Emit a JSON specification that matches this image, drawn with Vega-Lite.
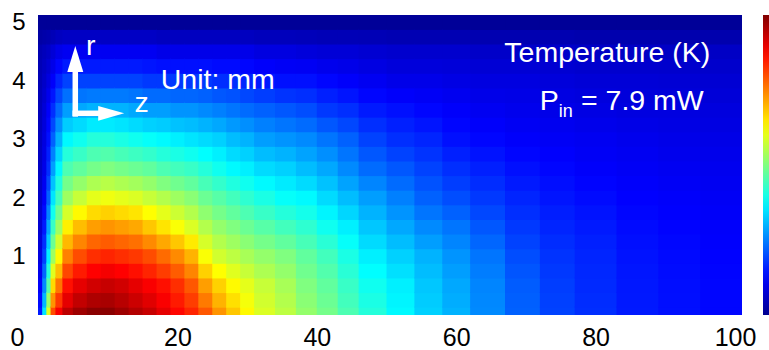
{
"$schema":"https://vega.github.io/schema/vega-lite/v6.json",
"width":704,"height":300,"autosize":"none",
"padding":{"left":38,"top":15,"right":27,"bottom":35},
"background":"white",
"config":{"view":{"stroke":null},"font":"Liberation Sans",
"axisX":{"ticks":false,"tickSize":0,"domain":false,"grid":false,"labelFontSize":25,"labelFont":"Liberation Sans","labelColor":"#000000","labelBaseline":"alphabetic","labelPadding":30,"labelFlush":false},
"axisY":{"ticks":false,"tickSize":0,"domain":false,"grid":false,"labelFontSize":24,"labelFont":"Liberation Sans","labelColor":"#000000","labelPadding":13}},
"datasets":{
"cols":[{"z":0.3,"z0":0,"z1":0.8},{"z":0.9,"z0":0.6,"z1":1.4},{"z":1.5,"z0":1.2,"z1":2.0},{"z":2.15,"z0":1.8,"z1":2.7},{"z":3,"z0":2.5,"z1":3.7},{"z":4.25,"z0":3.5,"z1":5.2},{"z":6,"z0":5,"z1":7.2},{"z":8,"z0":7,"z1":9.2},{"z":10,"z0":9,"z1":11.2},{"z":12,"z0":11,"z1":13.2},{"z":14,"z0":13,"z1":15.2},{"z":16,"z0":15,"z1":17.2},{"z":18,"z0":17,"z1":19.2},{"z":20,"z0":19,"z1":21.2},{"z":22,"z0":21,"z1":23.2},{"z":24,"z0":23,"z1":25.2},{"z":26,"z0":25,"z1":27.2},{"z":28,"z0":27,"z1":29.2},{"z":30,"z0":29,"z1":31.2},{"z":32.5,"z0":31,"z1":34.2},{"z":35.5,"z0":34,"z1":37.2},{"z":38.5,"z0":37,"z1":40.2},{"z":41.5,"z0":40,"z1":43.2},{"z":44.5,"z0":43,"z1":46.2},{"z":48,"z0":46,"z1":50.2},{"z":52,"z0":50,"z1":54.2},{"z":56,"z0":54,"z1":58.2},{"z":60,"z0":58,"z1":62.2},{"z":64.5,"z0":62,"z1":67.2},{"z":69.5,"z0":67,"z1":72.2},{"z":74.5,"z0":72,"z1":77.2},{"z":80,"z0":77,"z1":83.2},{"z":86,"z0":83,"z1":89.2},{"z":92,"z0":89,"z1":95.2},{"z":98,"z0":95,"z1":101}],
"rows":[{"r":0,"r0":-0.125,"r1":0.145},{"r":0.25,"r0":0.125,"r1":0.395},{"r":0.5,"r0":0.375,"r1":0.645},{"r":0.75,"r0":0.625,"r1":0.895},{"r":1,"r0":0.875,"r1":1.145},{"r":1.25,"r0":1.125,"r1":1.395},{"r":1.5,"r0":1.375,"r1":1.645},{"r":1.75,"r0":1.625,"r1":1.895},{"r":2,"r0":1.875,"r1":2.145},{"r":2.25,"r0":2.125,"r1":2.395},{"r":2.5,"r0":2.375,"r1":2.645},{"r":2.75,"r0":2.625,"r1":2.895},{"r":3,"r0":2.875,"r1":3.145},{"r":3.25,"r0":3.125,"r1":3.395},{"r":3.5,"r0":3.375,"r1":3.645},{"r":3.75,"r0":3.625,"r1":3.895},{"r":4,"r0":3.875,"r1":4.145},{"r":4.25,"r0":4.125,"r1":4.395},{"r":4.5,"r0":4.375,"r1":4.645},{"r":4.75,"r0":4.625,"r1":4.895},{"r":5,"r0":4.875,"r1":5.2}],
"cells":[
{"z":0.3,"r":0,"t":0.15},{"z":0.3,"r":0.25,"t":0.135},{"z":0.3,"r":0.5,"t":0.12},{"z":0.3,"r":0.75,"t":0.105},{"z":0.3,"r":1,"t":0.09},{"z":0.3,"r":1.25,"t":0.083},{"z":0.3,"r":1.5,"t":0.075},{"z":0.3,"r":1.75,"t":0.07},{"z":0.3,"r":2,"t":0.065},{"z":0.3,"r":2.25,"t":0.063},{"z":0.3,"r":2.5,"t":0.06},{"z":0.3,"r":2.75,"t":0.058},{"z":0.3,"r":3,"t":0.055},{"z":0.3,"r":3.25,"t":0.053},{"z":0.3,"r":3.5,"t":0.05},{"z":0.3,"r":3.75,"t":0.048},{"z":0.3,"r":4,"t":0.045},{"z":0.3,"r":4.25,"t":0.043},{"z":0.3,"r":4.5,"t":0.04},{"z":0.3,"r":4.75,"t":0.025},{"z":0.3,"r":5,"t":0.01},
{"z":0.9,"r":0,"t":0.35},{"z":0.9,"r":0.25,"t":0.305},{"z":0.9,"r":0.5,"t":0.26},{"z":0.9,"r":0.75,"t":0.225},{"z":0.9,"r":1,"t":0.19},{"z":0.9,"r":1.25,"t":0.17},{"z":0.9,"r":1.5,"t":0.15},{"z":0.9,"r":1.75,"t":0.135},{"z":0.9,"r":2,"t":0.12},{"z":0.9,"r":2.25,"t":0.11},{"z":0.9,"r":2.5,"t":0.1},{"z":0.9,"r":2.75,"t":0.095},{"z":0.9,"r":3,"t":0.09},{"z":0.9,"r":3.25,"t":0.085},{"z":0.9,"r":3.5,"t":0.08},{"z":0.9,"r":3.75,"t":0.073},{"z":0.9,"r":4,"t":0.065},{"z":0.9,"r":4.25,"t":0.058},{"z":0.9,"r":4.5,"t":0.05},{"z":0.9,"r":4.75,"t":0.03},{"z":0.9,"r":5,"t":0.01},
{"z":1.5,"r":0,"t":0.6},{"z":1.5,"r":0.25,"t":0.53},{"z":1.5,"r":0.5,"t":0.46},{"z":1.5,"r":0.75,"t":0.41},{"z":1.5,"r":1,"t":0.36},{"z":1.5,"r":1.25,"t":0.325},{"z":1.5,"r":1.5,"t":0.29},{"z":1.5,"r":1.75,"t":0.255},{"z":1.5,"r":2,"t":0.22},{"z":1.5,"r":2.25,"t":0.195},{"z":1.5,"r":2.5,"t":0.17},{"z":1.5,"r":2.75,"t":0.155},{"z":1.5,"r":3,"t":0.14},{"z":1.5,"r":3.25,"t":0.13},{"z":1.5,"r":3.5,"t":0.12},{"z":1.5,"r":3.75,"t":0.105},{"z":1.5,"r":4,"t":0.09},{"z":1.5,"r":4.25,"t":0.075},{"z":1.5,"r":4.5,"t":0.06},{"z":1.5,"r":4.75,"t":0.035},{"z":1.5,"r":5,"t":0.01},
{"z":2.15,"r":0,"t":0.8},{"z":2.15,"r":0.25,"t":0.73},{"z":2.15,"r":0.5,"t":0.66},{"z":2.15,"r":0.75,"t":0.595},{"z":2.15,"r":1,"t":0.53},{"z":2.15,"r":1.25,"t":0.48},{"z":2.15,"r":1.5,"t":0.43},{"z":2.15,"r":1.75,"t":0.39},{"z":2.15,"r":2,"t":0.35},{"z":2.15,"r":2.25,"t":0.315},{"z":2.15,"r":2.5,"t":0.28},{"z":2.15,"r":2.75,"t":0.25},{"z":2.15,"r":3,"t":0.22},{"z":2.15,"r":3.25,"t":0.195},{"z":2.15,"r":3.5,"t":0.17},{"z":2.15,"r":3.75,"t":0.145},{"z":2.15,"r":4,"t":0.12},{"z":2.15,"r":4.25,"t":0.1},{"z":2.15,"r":4.5,"t":0.08},{"z":2.15,"r":4.75,"t":0.045},{"z":2.15,"r":5,"t":0.01},
{"z":3,"r":0,"t":0.88},{"z":3,"r":0.25,"t":0.82},{"z":3,"r":0.5,"t":0.76},{"z":3,"r":0.75,"t":0.69},{"z":3,"r":1,"t":0.63},{"z":3,"r":1.25,"t":0.58},{"z":3,"r":1.5,"t":0.53},{"z":3,"r":1.75,"t":0.485},{"z":3,"r":2,"t":0.44},{"z":3,"r":2.25,"t":0.405},{"z":3,"r":2.5,"t":0.37},{"z":3,"r":2.75,"t":0.335},{"z":3,"r":3,"t":0.3},{"z":3,"r":3.25,"t":0.265},{"z":3,"r":3.5,"t":0.23},{"z":3,"r":3.75,"t":0.195},{"z":3,"r":4,"t":0.16},{"z":3,"r":4.25,"t":0.13},{"z":3,"r":4.5,"t":0.1},{"z":3,"r":4.75,"t":0.055},{"z":3,"r":5,"t":0.01},
{"z":4.25,"r":0,"t":0.94},{"z":4.25,"r":0.25,"t":0.9},{"z":4.25,"r":0.5,"t":0.86},{"z":4.25,"r":0.75,"t":0.805},{"z":4.25,"r":1,"t":0.75},{"z":4.25,"r":1.25,"t":0.695},{"z":4.25,"r":1.5,"t":0.64},{"z":4.25,"r":1.75,"t":0.585},{"z":4.25,"r":2,"t":0.53},{"z":4.25,"r":2.25,"t":0.49},{"z":4.25,"r":2.5,"t":0.45},{"z":4.25,"r":2.75,"t":0.41},{"z":4.25,"r":3,"t":0.37},{"z":4.25,"r":3.25,"t":0.325},{"z":4.25,"r":3.5,"t":0.28},{"z":4.25,"r":3.75,"t":0.235},{"z":4.25,"r":4,"t":0.19},{"z":4.25,"r":4.25,"t":0.15},{"z":4.25,"r":4.5,"t":0.11},{"z":4.25,"r":4.75,"t":0.06},{"z":4.25,"r":5,"t":0.01},
{"z":6,"r":0,"t":0.97},{"z":6,"r":0.25,"t":0.935},{"z":6,"r":0.5,"t":0.9},{"z":6,"r":0.75,"t":0.85},{"z":6,"r":1,"t":0.8},{"z":6,"r":1.25,"t":0.745},{"z":6,"r":1.5,"t":0.69},{"z":6,"r":1.75,"t":0.63},{"z":6,"r":2,"t":0.57},{"z":6,"r":2.25,"t":0.52},{"z":6,"r":2.5,"t":0.47},{"z":6,"r":2.75,"t":0.43},{"z":6,"r":3,"t":0.39},{"z":6,"r":3.25,"t":0.34},{"z":6,"r":3.5,"t":0.29},{"z":6,"r":3.75,"t":0.24},{"z":6,"r":4,"t":0.19},{"z":6,"r":4.25,"t":0.15},{"z":6,"r":4.5,"t":0.11},{"z":6,"r":4.75,"t":0.06},{"z":6,"r":5,"t":0.01},
{"z":8,"r":0,"t":0.99},{"z":8,"r":0.25,"t":0.955},{"z":8,"r":0.5,"t":0.92},{"z":8,"r":0.75,"t":0.875},{"z":8,"r":1,"t":0.83},{"z":8,"r":1.25,"t":0.775},{"z":8,"r":1.5,"t":0.72},{"z":8,"r":1.75,"t":0.66},{"z":8,"r":2,"t":0.6},{"z":8,"r":2.25,"t":0.545},{"z":8,"r":2.5,"t":0.49},{"z":8,"r":2.75,"t":0.45},{"z":8,"r":3,"t":0.41},{"z":8,"r":3.25,"t":0.355},{"z":8,"r":3.5,"t":0.3},{"z":8,"r":3.75,"t":0.245},{"z":8,"r":4,"t":0.19},{"z":8,"r":4.25,"t":0.15},{"z":8,"r":4.5,"t":0.11},{"z":8,"r":4.75,"t":0.06},{"z":8,"r":5,"t":0.01},
{"z":10,"r":0,"t":0.99},{"z":10,"r":0.25,"t":0.96},{"z":10,"r":0.5,"t":0.93},{"z":10,"r":0.75,"t":0.885},{"z":10,"r":1,"t":0.84},{"z":10,"r":1.25,"t":0.785},{"z":10,"r":1.5,"t":0.73},{"z":10,"r":1.75,"t":0.67},{"z":10,"r":2,"t":0.61},{"z":10,"r":2.25,"t":0.555},{"z":10,"r":2.5,"t":0.5},{"z":10,"r":2.75,"t":0.455},{"z":10,"r":3,"t":0.41},{"z":10,"r":3.25,"t":0.355},{"z":10,"r":3.5,"t":0.3},{"z":10,"r":3.75,"t":0.245},{"z":10,"r":4,"t":0.19},{"z":10,"r":4.25,"t":0.15},{"z":10,"r":4.5,"t":0.11},{"z":10,"r":4.75,"t":0.06},{"z":10,"r":5,"t":0.01},
{"z":12,"r":0,"t":0.97},{"z":12,"r":0.25,"t":0.945},{"z":12,"r":0.5,"t":0.92},{"z":12,"r":0.75,"t":0.875},{"z":12,"r":1,"t":0.83},{"z":12,"r":1.25,"t":0.775},{"z":12,"r":1.5,"t":0.72},{"z":12,"r":1.75,"t":0.66},{"z":12,"r":2,"t":0.6},{"z":12,"r":2.25,"t":0.545},{"z":12,"r":2.5,"t":0.49},{"z":12,"r":2.75,"t":0.445},{"z":12,"r":3,"t":0.4},{"z":12,"r":3.25,"t":0.35},{"z":12,"r":3.5,"t":0.3},{"z":12,"r":3.75,"t":0.245},{"z":12,"r":4,"t":0.19},{"z":12,"r":4.25,"t":0.15},{"z":12,"r":4.5,"t":0.11},{"z":12,"r":4.75,"t":0.06},{"z":12,"r":5,"t":0.01},
{"z":14,"r":0,"t":0.95},{"z":14,"r":0.25,"t":0.925},{"z":14,"r":0.5,"t":0.9},{"z":14,"r":0.75,"t":0.86},{"z":14,"r":1,"t":0.82},{"z":14,"r":1.25,"t":0.765},{"z":14,"r":1.5,"t":0.71},{"z":14,"r":1.75,"t":0.65},{"z":14,"r":2,"t":0.59},{"z":14,"r":2.25,"t":0.535},{"z":14,"r":2.5,"t":0.48},{"z":14,"r":2.75,"t":0.435},{"z":14,"r":3,"t":0.39},{"z":14,"r":3.25,"t":0.34},{"z":14,"r":3.5,"t":0.29},{"z":14,"r":3.75,"t":0.24},{"z":14,"r":4,"t":0.19},{"z":14,"r":4.25,"t":0.15},{"z":14,"r":4.5,"t":0.11},{"z":14,"r":4.75,"t":0.06},{"z":14,"r":5,"t":0.01},
{"z":16,"r":0,"t":0.93},{"z":16,"r":0.25,"t":0.905},{"z":16,"r":0.5,"t":0.88},{"z":16,"r":0.75,"t":0.84},{"z":16,"r":1,"t":0.8},{"z":16,"r":1.25,"t":0.74},{"z":16,"r":1.5,"t":0.68},{"z":16,"r":1.75,"t":0.625},{"z":16,"r":2,"t":0.57},{"z":16,"r":2.25,"t":0.52},{"z":16,"r":2.5,"t":0.47},{"z":16,"r":2.75,"t":0.425},{"z":16,"r":3,"t":0.38},{"z":16,"r":3.25,"t":0.33},{"z":16,"r":3.5,"t":0.28},{"z":16,"r":3.75,"t":0.23},{"z":16,"r":4,"t":0.18},{"z":16,"r":4.25,"t":0.145},{"z":16,"r":4.5,"t":0.11},{"z":16,"r":4.75,"t":0.06},{"z":16,"r":5,"t":0.01},
{"z":18,"r":0,"t":0.9},{"z":18,"r":0.25,"t":0.88},{"z":18,"r":0.5,"t":0.86},{"z":18,"r":0.75,"t":0.815},{"z":18,"r":1,"t":0.77},{"z":18,"r":1.25,"t":0.71},{"z":18,"r":1.5,"t":0.65},{"z":18,"r":1.75,"t":0.6},{"z":18,"r":2,"t":0.55},{"z":18,"r":2.25,"t":0.5},{"z":18,"r":2.5,"t":0.45},{"z":18,"r":2.75,"t":0.41},{"z":18,"r":3,"t":0.37},{"z":18,"r":3.25,"t":0.325},{"z":18,"r":3.5,"t":0.28},{"z":18,"r":3.75,"t":0.23},{"z":18,"r":4,"t":0.18},{"z":18,"r":4.25,"t":0.14},{"z":18,"r":4.5,"t":0.1},{"z":18,"r":4.75,"t":0.055},{"z":18,"r":5,"t":0.01},
{"z":20,"r":0,"t":0.87},{"z":20,"r":0.25,"t":0.85},{"z":20,"r":0.5,"t":0.83},{"z":20,"r":0.75,"t":0.785},{"z":20,"r":1,"t":0.74},{"z":20,"r":1.25,"t":0.68},{"z":20,"r":1.5,"t":0.62},{"z":20,"r":1.75,"t":0.575},{"z":20,"r":2,"t":0.53},{"z":20,"r":2.25,"t":0.485},{"z":20,"r":2.5,"t":0.44},{"z":20,"r":2.75,"t":0.4},{"z":20,"r":3,"t":0.36},{"z":20,"r":3.25,"t":0.315},{"z":20,"r":3.5,"t":0.27},{"z":20,"r":3.75,"t":0.225},{"z":20,"r":4,"t":0.18},{"z":20,"r":4.25,"t":0.14},{"z":20,"r":4.5,"t":0.1},{"z":20,"r":4.75,"t":0.055},{"z":20,"r":5,"t":0.01},
{"z":22,"r":0,"t":0.84},{"z":22,"r":0.25,"t":0.815},{"z":22,"r":0.5,"t":0.79},{"z":22,"r":0.75,"t":0.745},{"z":22,"r":1,"t":0.7},{"z":22,"r":1.25,"t":0.645},{"z":22,"r":1.5,"t":0.59},{"z":22,"r":1.75,"t":0.55},{"z":22,"r":2,"t":0.51},{"z":22,"r":2.25,"t":0.47},{"z":22,"r":2.5,"t":0.43},{"z":22,"r":2.75,"t":0.39},{"z":22,"r":3,"t":0.35},{"z":22,"r":3.25,"t":0.31},{"z":22,"r":3.5,"t":0.27},{"z":22,"r":3.75,"t":0.225},{"z":22,"r":4,"t":0.18},{"z":22,"r":4.25,"t":0.14},{"z":22,"r":4.5,"t":0.1},{"z":22,"r":4.75,"t":0.055},{"z":22,"r":5,"t":0.01},
{"z":24,"r":0,"t":0.79},{"z":24,"r":0.25,"t":0.755},{"z":24,"r":0.5,"t":0.72},{"z":24,"r":0.75,"t":0.67},{"z":24,"r":1,"t":0.62},{"z":24,"r":1.25,"t":0.585},{"z":24,"r":1.5,"t":0.55},{"z":24,"r":1.75,"t":0.515},{"z":24,"r":2,"t":0.48},{"z":24,"r":2.25,"t":0.445},{"z":24,"r":2.5,"t":0.41},{"z":24,"r":2.75,"t":0.375},{"z":24,"r":3,"t":0.34},{"z":24,"r":3.25,"t":0.3},{"z":24,"r":3.5,"t":0.26},{"z":24,"r":3.75,"t":0.22},{"z":24,"r":4,"t":0.18},{"z":24,"r":4.25,"t":0.14},{"z":24,"r":4.5,"t":0.1},{"z":24,"r":4.75,"t":0.055},{"z":24,"r":5,"t":0.01},
{"z":26,"r":0,"t":0.73},{"z":26,"r":0.25,"t":0.7},{"z":26,"r":0.5,"t":0.67},{"z":26,"r":0.75,"t":0.625},{"z":26,"r":1,"t":0.58},{"z":26,"r":1.25,"t":0.55},{"z":26,"r":1.5,"t":0.52},{"z":26,"r":1.75,"t":0.49},{"z":26,"r":2,"t":0.46},{"z":26,"r":2.25,"t":0.425},{"z":26,"r":2.5,"t":0.39},{"z":26,"r":2.75,"t":0.36},{"z":26,"r":3,"t":0.33},{"z":26,"r":3.25,"t":0.29},{"z":26,"r":3.5,"t":0.25},{"z":26,"r":3.75,"t":0.21},{"z":26,"r":4,"t":0.17},{"z":26,"r":4.25,"t":0.135},{"z":26,"r":4.5,"t":0.1},{"z":26,"r":4.75,"t":0.055},{"z":26,"r":5,"t":0.01},
{"z":28,"r":0,"t":0.68},{"z":28,"r":0.25,"t":0.655},{"z":28,"r":0.5,"t":0.63},{"z":28,"r":0.75,"t":0.595},{"z":28,"r":1,"t":0.56},{"z":28,"r":1.25,"t":0.53},{"z":28,"r":1.5,"t":0.5},{"z":28,"r":1.75,"t":0.47},{"z":28,"r":2,"t":0.44},{"z":28,"r":2.25,"t":0.405},{"z":28,"r":2.5,"t":0.37},{"z":28,"r":2.75,"t":0.34},{"z":28,"r":3,"t":0.31},{"z":28,"r":3.25,"t":0.275},{"z":28,"r":3.5,"t":0.24},{"z":28,"r":3.75,"t":0.205},{"z":28,"r":4,"t":0.17},{"z":28,"r":4.25,"t":0.135},{"z":28,"r":4.5,"t":0.1},{"z":28,"r":4.75,"t":0.055},{"z":28,"r":5,"t":0.01},
{"z":30,"r":0,"t":0.63},{"z":30,"r":0.25,"t":0.615},{"z":30,"r":0.5,"t":0.6},{"z":30,"r":0.75,"t":0.57},{"z":30,"r":1,"t":0.54},{"z":30,"r":1.25,"t":0.51},{"z":30,"r":1.5,"t":0.48},{"z":30,"r":1.75,"t":0.45},{"z":30,"r":2,"t":0.42},{"z":30,"r":2.25,"t":0.39},{"z":30,"r":2.5,"t":0.36},{"z":30,"r":2.75,"t":0.33},{"z":30,"r":3,"t":0.3},{"z":30,"r":3.25,"t":0.265},{"z":30,"r":3.5,"t":0.23},{"z":30,"r":3.75,"t":0.195},{"z":30,"r":4,"t":0.16},{"z":30,"r":4.25,"t":0.13},{"z":30,"r":4.5,"t":0.1},{"z":30,"r":4.75,"t":0.055},{"z":30,"r":5,"t":0.01},
{"z":32.5,"r":0,"t":0.59},{"z":32.5,"r":0.25,"t":0.58},{"z":32.5,"r":0.5,"t":0.57},{"z":32.5,"r":0.75,"t":0.545},{"z":32.5,"r":1,"t":0.52},{"z":32.5,"r":1.25,"t":0.49},{"z":32.5,"r":1.5,"t":0.46},{"z":32.5,"r":1.75,"t":0.43},{"z":32.5,"r":2,"t":0.4},{"z":32.5,"r":2.25,"t":0.37},{"z":32.5,"r":2.5,"t":0.34},{"z":32.5,"r":2.75,"t":0.31},{"z":32.5,"r":3,"t":0.28},{"z":32.5,"r":3.25,"t":0.25},{"z":32.5,"r":3.5,"t":0.22},{"z":32.5,"r":3.75,"t":0.185},{"z":32.5,"r":4,"t":0.15},{"z":32.5,"r":4.25,"t":0.12},{"z":32.5,"r":4.5,"t":0.09},{"z":32.5,"r":4.75,"t":0.05},{"z":32.5,"r":5,"t":0.01},
{"z":35.5,"r":0,"t":0.56},{"z":35.5,"r":0.25,"t":0.55},{"z":35.5,"r":0.5,"t":0.54},{"z":35.5,"r":0.75,"t":0.52},{"z":35.5,"r":1,"t":0.5},{"z":35.5,"r":1.25,"t":0.47},{"z":35.5,"r":1.5,"t":0.44},{"z":35.5,"r":1.75,"t":0.41},{"z":35.5,"r":2,"t":0.38},{"z":35.5,"r":2.25,"t":0.355},{"z":35.5,"r":2.5,"t":0.33},{"z":35.5,"r":2.75,"t":0.3},{"z":35.5,"r":3,"t":0.27},{"z":35.5,"r":3.25,"t":0.24},{"z":35.5,"r":3.5,"t":0.21},{"z":35.5,"r":3.75,"t":0.175},{"z":35.5,"r":4,"t":0.14},{"z":35.5,"r":4.25,"t":0.115},{"z":35.5,"r":4.5,"t":0.09},{"z":35.5,"r":4.75,"t":0.05},{"z":35.5,"r":5,"t":0.01},
{"z":38.5,"r":0,"t":0.52},{"z":38.5,"r":0.25,"t":0.51},{"z":38.5,"r":0.5,"t":0.5},{"z":38.5,"r":0.75,"t":0.485},{"z":38.5,"r":1,"t":0.47},{"z":38.5,"r":1.25,"t":0.445},{"z":38.5,"r":1.5,"t":0.42},{"z":38.5,"r":1.75,"t":0.395},{"z":38.5,"r":2,"t":0.37},{"z":38.5,"r":2.25,"t":0.34},{"z":38.5,"r":2.5,"t":0.31},{"z":38.5,"r":2.75,"t":0.285},{"z":38.5,"r":3,"t":0.26},{"z":38.5,"r":3.25,"t":0.23},{"z":38.5,"r":3.5,"t":0.2},{"z":38.5,"r":3.75,"t":0.17},{"z":38.5,"r":4,"t":0.14},{"z":38.5,"r":4.25,"t":0.113},{"z":38.5,"r":4.5,"t":0.085},{"z":38.5,"r":4.75,"t":0.048},{"z":38.5,"r":5,"t":0.01},
{"z":41.5,"r":0,"t":0.49},{"z":41.5,"r":0.25,"t":0.48},{"z":41.5,"r":0.5,"t":0.47},{"z":41.5,"r":0.75,"t":0.455},{"z":41.5,"r":1,"t":0.44},{"z":41.5,"r":1.25,"t":0.415},{"z":41.5,"r":1.5,"t":0.39},{"z":41.5,"r":1.75,"t":0.365},{"z":41.5,"r":2,"t":0.34},{"z":41.5,"r":2.25,"t":0.315},{"z":41.5,"r":2.5,"t":0.29},{"z":41.5,"r":2.75,"t":0.265},{"z":41.5,"r":3,"t":0.24},{"z":41.5,"r":3.25,"t":0.21},{"z":41.5,"r":3.5,"t":0.18},{"z":41.5,"r":3.75,"t":0.155},{"z":41.5,"r":4,"t":0.13},{"z":41.5,"r":4.25,"t":0.105},{"z":41.5,"r":4.5,"t":0.08},{"z":41.5,"r":4.75,"t":0.045},{"z":41.5,"r":5,"t":0.01},
{"z":44.5,"r":0,"t":0.45},{"z":44.5,"r":0.25,"t":0.44},{"z":44.5,"r":0.5,"t":0.43},{"z":44.5,"r":0.75,"t":0.415},{"z":44.5,"r":1,"t":0.4},{"z":44.5,"r":1.25,"t":0.38},{"z":44.5,"r":1.5,"t":0.36},{"z":44.5,"r":1.75,"t":0.335},{"z":44.5,"r":2,"t":0.31},{"z":44.5,"r":2.25,"t":0.285},{"z":44.5,"r":2.5,"t":0.26},{"z":44.5,"r":2.75,"t":0.24},{"z":44.5,"r":3,"t":0.22},{"z":44.5,"r":3.25,"t":0.195},{"z":44.5,"r":3.5,"t":0.17},{"z":44.5,"r":3.75,"t":0.145},{"z":44.5,"r":4,"t":0.12},{"z":44.5,"r":4.25,"t":0.1},{"z":44.5,"r":4.5,"t":0.08},{"z":44.5,"r":4.75,"t":0.045},{"z":44.5,"r":5,"t":0.01},
{"z":48,"r":0,"t":0.41},{"z":48,"r":0.25,"t":0.4},{"z":48,"r":0.5,"t":0.39},{"z":48,"r":0.75,"t":0.375},{"z":48,"r":1,"t":0.36},{"z":48,"r":1.25,"t":0.34},{"z":48,"r":1.5,"t":0.32},{"z":48,"r":1.75,"t":0.3},{"z":48,"r":2,"t":0.28},{"z":48,"r":2.25,"t":0.255},{"z":48,"r":2.5,"t":0.23},{"z":48,"r":2.75,"t":0.21},{"z":48,"r":3,"t":0.19},{"z":48,"r":3.25,"t":0.17},{"z":48,"r":3.5,"t":0.15},{"z":48,"r":3.75,"t":0.13},{"z":48,"r":4,"t":0.11},{"z":48,"r":4.25,"t":0.093},{"z":48,"r":4.5,"t":0.075},{"z":48,"r":4.75,"t":0.043},{"z":48,"r":5,"t":0.01},
{"z":52,"r":0,"t":0.37},{"z":52,"r":0.25,"t":0.365},{"z":52,"r":0.5,"t":0.36},{"z":52,"r":0.75,"t":0.345},{"z":52,"r":1,"t":0.33},{"z":52,"r":1.25,"t":0.31},{"z":52,"r":1.5,"t":0.29},{"z":52,"r":1.75,"t":0.27},{"z":52,"r":2,"t":0.25},{"z":52,"r":2.25,"t":0.23},{"z":52,"r":2.5,"t":0.21},{"z":52,"r":2.75,"t":0.19},{"z":52,"r":3,"t":0.17},{"z":52,"r":3.25,"t":0.155},{"z":52,"r":3.5,"t":0.14},{"z":52,"r":3.75,"t":0.12},{"z":52,"r":4,"t":0.1},{"z":52,"r":4.25,"t":0.085},{"z":52,"r":4.5,"t":0.07},{"z":52,"r":4.75,"t":0.04},{"z":52,"r":5,"t":0.01},
{"z":56,"r":0,"t":0.33},{"z":56,"r":0.25,"t":0.325},{"z":56,"r":0.5,"t":0.32},{"z":56,"r":0.75,"t":0.31},{"z":56,"r":1,"t":0.3},{"z":56,"r":1.25,"t":0.28},{"z":56,"r":1.5,"t":0.26},{"z":56,"r":1.75,"t":0.24},{"z":56,"r":2,"t":0.22},{"z":56,"r":2.25,"t":0.205},{"z":56,"r":2.5,"t":0.19},{"z":56,"r":2.75,"t":0.175},{"z":56,"r":3,"t":0.16},{"z":56,"r":3.25,"t":0.145},{"z":56,"r":3.5,"t":0.13},{"z":56,"r":3.75,"t":0.115},{"z":56,"r":4,"t":0.1},{"z":56,"r":4.25,"t":0.085},{"z":56,"r":4.5,"t":0.07},{"z":56,"r":4.75,"t":0.04},{"z":56,"r":5,"t":0.01},
{"z":60,"r":0,"t":0.3},{"z":60,"r":0.25,"t":0.295},{"z":60,"r":0.5,"t":0.29},{"z":60,"r":0.75,"t":0.28},{"z":60,"r":1,"t":0.27},{"z":60,"r":1.25,"t":0.255},{"z":60,"r":1.5,"t":0.24},{"z":60,"r":1.75,"t":0.22},{"z":60,"r":2,"t":0.2},{"z":60,"r":2.25,"t":0.185},{"z":60,"r":2.5,"t":0.17},{"z":60,"r":2.75,"t":0.155},{"z":60,"r":3,"t":0.14},{"z":60,"r":3.25,"t":0.13},{"z":60,"r":3.5,"t":0.12},{"z":60,"r":3.75,"t":0.108},{"z":60,"r":4,"t":0.095},{"z":60,"r":4.25,"t":0.083},{"z":60,"r":4.5,"t":0.07},{"z":60,"r":4.75,"t":0.04},{"z":60,"r":5,"t":0.01},
{"z":64.5,"r":0,"t":0.26},{"z":64.5,"r":0.25,"t":0.258},{"z":64.5,"r":0.5,"t":0.255},{"z":64.5,"r":0.75,"t":0.248},{"z":64.5,"r":1,"t":0.24},{"z":64.5,"r":1.25,"t":0.225},{"z":64.5,"r":1.5,"t":0.21},{"z":64.5,"r":1.75,"t":0.195},{"z":64.5,"r":2,"t":0.18},{"z":64.5,"r":2.25,"t":0.168},{"z":64.5,"r":2.5,"t":0.155},{"z":64.5,"r":2.75,"t":0.143},{"z":64.5,"r":3,"t":0.13},{"z":64.5,"r":3.25,"t":0.12},{"z":64.5,"r":3.5,"t":0.11},{"z":64.5,"r":3.75,"t":0.1},{"z":64.5,"r":4,"t":0.09},{"z":64.5,"r":4.25,"t":0.078},{"z":64.5,"r":4.5,"t":0.065},{"z":64.5,"r":4.75,"t":0.038},{"z":64.5,"r":5,"t":0.01},
{"z":69.5,"r":0,"t":0.22},{"z":69.5,"r":0.25,"t":0.218},{"z":69.5,"r":0.5,"t":0.215},{"z":69.5,"r":0.75,"t":0.208},{"z":69.5,"r":1,"t":0.2},{"z":69.5,"r":1.25,"t":0.19},{"z":69.5,"r":1.5,"t":0.18},{"z":69.5,"r":1.75,"t":0.17},{"z":69.5,"r":2,"t":0.16},{"z":69.5,"r":2.25,"t":0.15},{"z":69.5,"r":2.5,"t":0.14},{"z":69.5,"r":2.75,"t":0.13},{"z":69.5,"r":3,"t":0.12},{"z":69.5,"r":3.25,"t":0.113},{"z":69.5,"r":3.5,"t":0.105},{"z":69.5,"r":3.75,"t":0.098},{"z":69.5,"r":4,"t":0.09},{"z":69.5,"r":4.25,"t":0.078},{"z":69.5,"r":4.5,"t":0.065},{"z":69.5,"r":4.75,"t":0.038},{"z":69.5,"r":5,"t":0.01},
{"z":74.5,"r":0,"t":0.19},{"z":74.5,"r":0.25,"t":0.188},{"z":74.5,"r":0.5,"t":0.185},{"z":74.5,"r":0.75,"t":0.18},{"z":74.5,"r":1,"t":0.175},{"z":74.5,"r":1.25,"t":0.168},{"z":74.5,"r":1.5,"t":0.16},{"z":74.5,"r":1.75,"t":0.153},{"z":74.5,"r":2,"t":0.145},{"z":74.5,"r":2.25,"t":0.138},{"z":74.5,"r":2.5,"t":0.13},{"z":74.5,"r":2.75,"t":0.123},{"z":74.5,"r":3,"t":0.115},{"z":74.5,"r":3.25,"t":0.108},{"z":74.5,"r":3.5,"t":0.1},{"z":74.5,"r":3.75,"t":0.093},{"z":74.5,"r":4,"t":0.085},{"z":74.5,"r":4.25,"t":0.075},{"z":74.5,"r":4.5,"t":0.065},{"z":74.5,"r":4.75,"t":0.038},{"z":74.5,"r":5,"t":0.01},
{"z":80,"r":0,"t":0.17},{"z":80,"r":0.25,"t":0.168},{"z":80,"r":0.5,"t":0.165},{"z":80,"r":0.75,"t":0.163},{"z":80,"r":1,"t":0.16},{"z":80,"r":1.25,"t":0.155},{"z":80,"r":1.5,"t":0.15},{"z":80,"r":1.75,"t":0.143},{"z":80,"r":2,"t":0.135},{"z":80,"r":2.25,"t":0.128},{"z":80,"r":2.5,"t":0.12},{"z":80,"r":2.75,"t":0.115},{"z":80,"r":3,"t":0.11},{"z":80,"r":3.25,"t":0.103},{"z":80,"r":3.5,"t":0.095},{"z":80,"r":3.75,"t":0.088},{"z":80,"r":4,"t":0.08},{"z":80,"r":4.25,"t":0.07},{"z":80,"r":4.5,"t":0.06},{"z":80,"r":4.75,"t":0.035},{"z":80,"r":5,"t":0.01},
{"z":86,"r":0,"t":0.15},{"z":86,"r":0.25,"t":0.149},{"z":86,"r":0.5,"t":0.148},{"z":86,"r":0.75,"t":0.146},{"z":86,"r":1,"t":0.143},{"z":86,"r":1.25,"t":0.139},{"z":86,"r":1.5,"t":0.135},{"z":86,"r":1.75,"t":0.13},{"z":86,"r":2,"t":0.125},{"z":86,"r":2.25,"t":0.12},{"z":86,"r":2.5,"t":0.115},{"z":86,"r":2.75,"t":0.11},{"z":86,"r":3,"t":0.105},{"z":86,"r":3.25,"t":0.098},{"z":86,"r":3.5,"t":0.09},{"z":86,"r":3.75,"t":0.085},{"z":86,"r":4,"t":0.08},{"z":86,"r":4.25,"t":0.07},{"z":86,"r":4.5,"t":0.06},{"z":86,"r":4.75,"t":0.035},{"z":86,"r":5,"t":0.01},
{"z":92,"r":0,"t":0.14},{"z":92,"r":0.25,"t":0.139},{"z":92,"r":0.5,"t":0.138},{"z":92,"r":0.75,"t":0.136},{"z":92,"r":1,"t":0.134},{"z":92,"r":1.25,"t":0.131},{"z":92,"r":1.5,"t":0.127},{"z":92,"r":1.75,"t":0.124},{"z":92,"r":2,"t":0.12},{"z":92,"r":2.25,"t":0.115},{"z":92,"r":2.5,"t":0.11},{"z":92,"r":2.75,"t":0.105},{"z":92,"r":3,"t":0.1},{"z":92,"r":3.25,"t":0.095},{"z":92,"r":3.5,"t":0.09},{"z":92,"r":3.75,"t":0.084},{"z":92,"r":4,"t":0.078},{"z":92,"r":4.25,"t":0.069},{"z":92,"r":4.5,"t":0.06},{"z":92,"r":4.75,"t":0.035},{"z":92,"r":5,"t":0.01},
{"z":98,"r":0,"t":0.13},{"z":98,"r":0.25,"t":0.13},{"z":98,"r":0.5,"t":0.13},{"z":98,"r":0.75,"t":0.128},{"z":98,"r":1,"t":0.126},{"z":98,"r":1.25,"t":0.123},{"z":98,"r":1.5,"t":0.12},{"z":98,"r":1.75,"t":0.118},{"z":98,"r":2,"t":0.115},{"z":98,"r":2.25,"t":0.111},{"z":98,"r":2.5,"t":0.107},{"z":98,"r":2.75,"t":0.103},{"z":98,"r":3,"t":0.098},{"z":98,"r":3.25,"t":0.093},{"z":98,"r":3.5,"t":0.088},{"z":98,"r":3.75,"t":0.082},{"z":98,"r":4,"t":0.076},{"z":98,"r":4.25,"t":0.068},{"z":98,"r":4.5,"t":0.06},{"z":98,"r":4.75,"t":0.035},{"z":98,"r":5,"t":0.01}
],
"shafts":[{"z":5.35,"r":3.391,"z2":5.35,"r2":4.2},{"z":4.95,"r":3.449,"z2":8.9,"r2":3.449}],
"headUp":[{"z":5.35,"r":4.378}],
"headRight":[{"z":10.5,"r":3.449}],
"bigText":[{"z":66.9,"r":4.331,"txt":"Temperature (K)"},{"z":17.61,"r":3.865,"txt":"Unit: mm"},{"z":71.99,"r":3.505,"txt":"P"},{"z":77.9,"r":3.505,"txt":"= 7.9 mW"},{"z":6.9,"r":4.446,"txt":"r"},{"z":13.83,"r":3.476,"txt":"z"}],
"subText":[{"z":74.72,"r":3.394,"txt":"in"}]
},
"layer":[
{
"data":{"name":"cells"},
"transform":[
{"lookup":"z","from":{"data":{"name":"cols"},"key":"z","fields":["z0","z1"]}},
{"lookup":"r","from":{"data":{"name":"rows"},"key":"r","fields":["r0","r1"]}}
],
"mark":{"type":"rect","clip":true,"strokeWidth":0},
"encoding":{
"x":{"field":"z0","type":"quantitative","title":null,"scale":{"domain":[0,101],"nice":false,"zero":false},
"axis":{"values":[0,20,40,60,80,100],"labelOffset":{"condition":{"test":"datum.value === 0","value":-21},"value":0}}},
"x2":{"field":"z1"},
"y":{"field":"r0","type":"quantitative","title":null,"scale":{"domain":[0,5.13],"nice":false,"zero":false},
"axis":{"values":[1,2,3,4,5]}},
"y2":{"field":"r1"},
"fill":{"field":"t","type":"quantitative","scale":{"type":"linear","domain":[0,0.125,0.375,0.625,0.875,1],"range":["#00008f","#0000ff","#00ffff","#ffff00","#ff0000","#800000"],"interpolate":"rgb"},
"legend":{"type":"gradient","orient":"right","offset":21,"title":null,"labelExpr":"''","labelOpacity":0,"labelFontSize":1,"gradientLength":300,"gradientThickness":16,"padding":0,"gradientStrokeWidth":0,"direction":"vertical"}}
}
},
{
"data":{"name":"shafts"},
"mark":{"type":"rule","color":"#ffffff","strokeWidth":5.5,"strokeCap":"butt"},
"encoding":{
"x":{"field":"z","type":"quantitative","title":null,"scale":{"domain":[0,101],"nice":false,"zero":false},
"axis":{"values":[0,20,40,60,80,100],"labelOffset":{"condition":{"test":"datum.value === 0","value":-21},"value":0}}},
"x2":{"field":"z2"},
"y":{"field":"r","type":"quantitative","title":null,"scale":{"domain":[0,5.13],"nice":false,"zero":false},"axis":{"values":[1,2,3,4,5]}},
"y2":{"field":"r2"}
}
},
{
"data":{"name":"headUp"},
"mark":{"type":"point","shape":"M0,-1L0.615,1L-0.615,1Z","size":676,"filled":true,"color":"#ffffff","opacity":1,"strokeWidth":0},
"encoding":{
"x":{"field":"z","type":"quantitative","title":null,"scale":{"domain":[0,101],"nice":false,"zero":false},
"axis":{"values":[0,20,40,60,80,100],"labelOffset":{"condition":{"test":"datum.value === 0","value":-21},"value":0}}},
"y":{"field":"r","type":"quantitative","title":null,"scale":{"domain":[0,5.13],"nice":false,"zero":false},"axis":{"values":[1,2,3,4,5]}}
}
},
{
"data":{"name":"headRight"},
"mark":{"type":"point","shape":"M1,0L-1,-0.57L-1,0.57Z","size":676,"filled":true,"color":"#ffffff","opacity":1,"strokeWidth":0},
"encoding":{
"x":{"field":"z","type":"quantitative","title":null,"scale":{"domain":[0,101],"nice":false,"zero":false},
"axis":{"values":[0,20,40,60,80,100],"labelOffset":{"condition":{"test":"datum.value === 0","value":-21},"value":0}}},
"y":{"field":"r","type":"quantitative","title":null,"scale":{"domain":[0,5.13],"nice":false,"zero":false},"axis":{"values":[1,2,3,4,5]}}
}
},
{
"data":{"name":"bigText"},
"mark":{"type":"text","align":"left","baseline":"alphabetic","fontSize":28.5,"font":"Liberation Sans","color":"#ffffff"},
"encoding":{
"x":{"field":"z","type":"quantitative","title":null,"scale":{"domain":[0,101],"nice":false,"zero":false},
"axis":{"values":[0,20,40,60,80,100],"labelOffset":{"condition":{"test":"datum.value === 0","value":-21},"value":0}}},
"y":{"field":"r","type":"quantitative","title":null,"scale":{"domain":[0,5.13],"nice":false,"zero":false},"axis":{"values":[1,2,3,4,5]}},
"text":{"field":"txt"}
}
},
{
"data":{"name":"subText"},
"mark":{"type":"text","align":"left","baseline":"alphabetic","fontSize":18,"font":"Liberation Sans","color":"#ffffff"},
"encoding":{
"x":{"field":"z","type":"quantitative","title":null,"scale":{"domain":[0,101],"nice":false,"zero":false},
"axis":{"values":[0,20,40,60,80,100],"labelOffset":{"condition":{"test":"datum.value === 0","value":-21},"value":0}}},
"y":{"field":"r","type":"quantitative","title":null,"scale":{"domain":[0,5.13],"nice":false,"zero":false},"axis":{"values":[1,2,3,4,5]}},
"text":{"field":"txt"}
}
}
]
}
